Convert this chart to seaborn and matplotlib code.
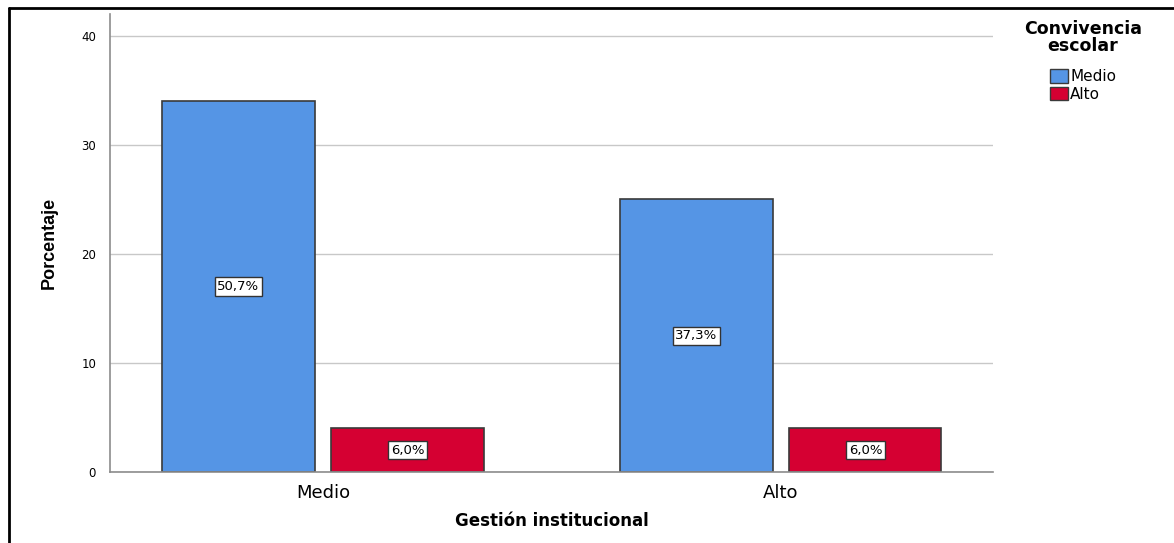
import pandas as pd
import numpy as np
import seaborn as sns
import matplotlib.pyplot as plt
from matplotlib.patches import Patch
from matplotlib.lines import Line2D

# data
gestion = ['Medio', 'Medio', 'Alto', 'Alto']
convivencia = ['Medio', 'Alto', 'Medio', 'Alto']
valores = [34, 4, 25, 4]
etiquetas = ['50,7%', '6,0%', '37,3%', '6,0%']

niveles = ['Medio', 'Alto']
colores = ['#5595E5', '#D50032']

df = pd.DataFrame({'Gestión institucional': gestion,
                   'Convivencia escolar': convivencia,
                   'Porcentaje': valores})

sns.set_style('white')
plt.rcParams['font.family'] = ['DejaVu Sans']
plt.rcParams['text.color'] = 'black'
plt.rcParams['axes.labelcolor'] = 'black'
plt.rcParams['xtick.color'] = 'black'
plt.rcParams['ytick.color'] = 'black'

fig = plt.figure(figsize=(11.74, 5.43), dpi=100)
ax = fig.add_axes([110/1174, 1-472/543, (993-110)/1174, (472-14)/543])

sns.barplot(data=df, x='Gestión institucional', y='Porcentaje',
            hue='Convivencia escolar', order=niveles, hue_order=niveles,
            palette=colores, width=0.738, gap=0.1, edgecolor='#3a3a3a',
            linewidth=1.2, saturation=1, errorbar=None, legend=False, ax=ax)

ax.set_ylim(0, 42)
ax.set_xlim(-0.465, 1.463)
ax.set_yticks([0, 10, 20, 30, 40])
ax.yaxis.grid(True, color='#c8c8c8', linewidth=1)
ax.set_axisbelow(True)
for s in ['top', 'right']:
    ax.spines[s].set_visible(False)
for s in ['left', 'bottom']:
    ax.spines[s].set_color('#8c8c8c')
    ax.spines[s].set_linewidth(1.2)
ax.tick_params(axis='both', length=0)
ax.tick_params(axis='y', labelsize=8.5, pad=10)
ax.tick_params(axis='x', labelsize=13, pad=9)

ax.set_xlabel('Gestión institucional', fontsize=12, fontweight='bold', labelpad=7)
ax.set_ylabel('Porcentaje', fontsize=13, fontweight='bold', labelpad=17,
              family=['Liberation Sans Narrow', 'Liberation Sans', 'DejaVu Sans'])

# labels in the middle of each bar
orden = {}
for c, nivel in zip(ax.containers, niveles):
    for p, g in zip(c, niveles):
        orden[(g, nivel)] = p
for g, cv, et in zip(gestion, convivencia, etiquetas):
    p = orden[(g, cv)]
    ax.text(p.get_x() + p.get_width()/2, p.get_height()/2, et,
            ha='center', va='center', fontsize=9.5,
            bbox=dict(boxstyle='square,pad=0.2', fc='white', ec='#333333', lw=1))

handles = [Patch(facecolor=c, edgecolor='#3a3a3a', label=n) for c, n in zip(colores, niveles)]
leg = fig.legend(handles=handles, title='Convivencia\nescolar', loc='upper center',
                 bbox_to_anchor=(1083/1174, 1-20/543), frameon=False,
                 fontsize=11, handlelength=1.2, handleheight=1.0,
                 handletextpad=0.15, labelspacing=0.15, borderaxespad=0,
                 borderpad=0)
leg.get_title().set_fontweight('bold')
leg.get_title().set_fontsize(12.5)
leg.get_title().set_multialignment('center')
leg.get_title().set_linespacing(0.95)
leg._legend_box.align = 'center'
leg._legend_box.sep = 10

# frame around the figure (left and top only)
fig.add_artist(Line2D([9/1174, 9/1174], [0, 1-8/543], color='black', lw=2))
fig.add_artist(Line2D([9/1174, 1], [1-8/543, 1-8/543], color='black', lw=2))

plt.savefig('out.png', dpi=100)
